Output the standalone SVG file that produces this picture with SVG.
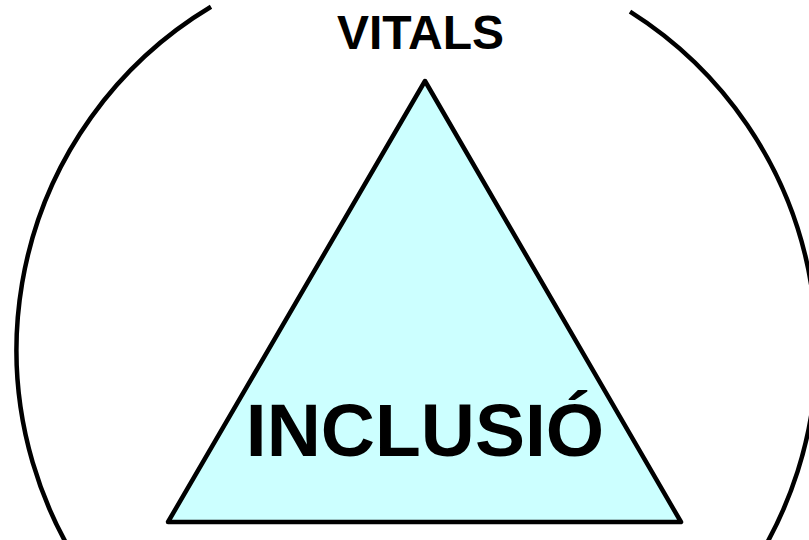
<svg xmlns="http://www.w3.org/2000/svg" width="809" height="540" viewBox="0 0 809 540">
  <style>
    .ln { fill: none; stroke: #000; stroke-width: 4.5; }
    .tri { fill: #CCFFFF; stroke: #000; stroke-width: 4.5; stroke-linejoin: round; }
    .lbl { font-family: "Liberation Sans", Arial, sans-serif; font-weight: bold; fill: #000; text-anchor: middle; }
  </style>
  <rect width="809" height="540" fill="#fff"/>
  <g id="vitals">
    <path class="ln" d="M 211 6.8 A 400 400 0 1 0 630 11.7"/>
    <text class="lbl" x="420.5" y="49" font-size="48">VITALS</text>
  </g>
  <g id="inclusio">
    <path class="tri" d="M 425 81 L 681 522 L 168 522 Z"/>
    <text class="lbl" x="425" y="456" font-size="75">INCLUSIÓ</text>
  </g>
</svg>
